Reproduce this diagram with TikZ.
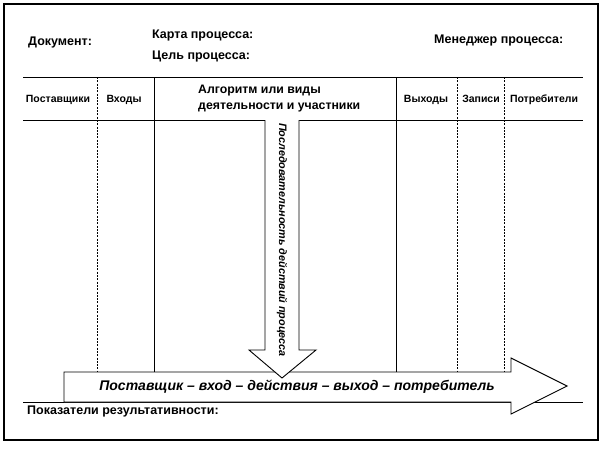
\documentclass[tikz,border=0pt]{standalone}
\usepackage{fontspec}
\setmainfont{Liberation Sans}
\begin{document}
\begin{tikzpicture}[x=1pt,y=-1pt,
  frame/.style={line width=1.1pt},
  rule/.style={line width=0.9pt},
  dashrule/.style={line width=0.8pt, dash pattern=on 2pt off 1.3pt},
  title/.style={font=\bfseries\fontsize{12.5}{14}\selectfont, inner sep=0pt, anchor=west},
  hdr/.style={font=\bfseries\fontsize{10.5}{13}\selectfont, inner sep=0pt, anchor=base},
  bighdr/.style={font=\bfseries\fontsize{12.3}{14}\selectfont, inner sep=0pt, anchor=west},
  bigarrow/.style={draw, fill=white, line width=0.9pt},
  arrowtext/.style={font=\bfseries\itshape\fontsize{14}{16}\selectfont, inner sep=0pt},
  vtext/.style={font=\bfseries\itshape\fontsize{10.8}{13}\selectfont, inner sep=0pt, rotate=-90}]
\useasboundingbox (0,0) rectangle (605,450);
\draw[frame] (4,4) rectangle (598,440);

% header texts
\node[title] (doc) at (28,42) {Документ:};
\node[title] (map) at (152,35) {Карта процесса:};
\node[title] (goal) at (152,56) {Цель процесса:};
\node[title] (mgr) at (434,40) {Менеджер процесса:};

% table rules
\draw[rule] (23,77) -- (583,77);
\draw[rule] (23,120) -- (583,120);
\draw[rule] (23,402) -- (583,402);
\draw[dashrule] (97,77) -- (97,372);
\draw[rule] (154,77) -- (154,372);
\draw[rule] (396,77) -- (396,372);
\draw[dashrule] (457,77) -- (457,372);
\draw[dashrule] (504,77) -- (504,372);

% column headers
\node[hdr] (h1) at (58,102) {Поставщики};
\node[hdr] (h2) at (124,102) {Входы};
\node[bighdr] (h3a) at (198,91) {Алгоритм или виды};
\node[bighdr] (h3b) at (198,107) {деятельности и участники};
\node[hdr] (h4) at (426,102) {Выходы};
\node[hdr] (h5) at (481,102) {Записи};
\node[hdr] (h6) at (544,102) {Потребители};

% horizontal arrow
\draw[bigarrow] (64,372) -- (511,372) -- (511,358) -- (567,386) -- (511,414) -- (511,402) -- (64,402) -- cycle;
\node[arrowtext] (flow) at (297,387) {Поставщик – вход – действия – выход – потребитель};

% vertical arrow
\draw[bigarrow] (265,120) -- (265,350) -- (249,350) -- (282,378) -- (316,350) -- (299,350) -- (299,120);
\node[vtext] (seq) at (282,240) {Последовательность действий процесса};

\node[title] (kpi) at (27,411) {Показатели результативности:};
\end{tikzpicture}
\end{document}
